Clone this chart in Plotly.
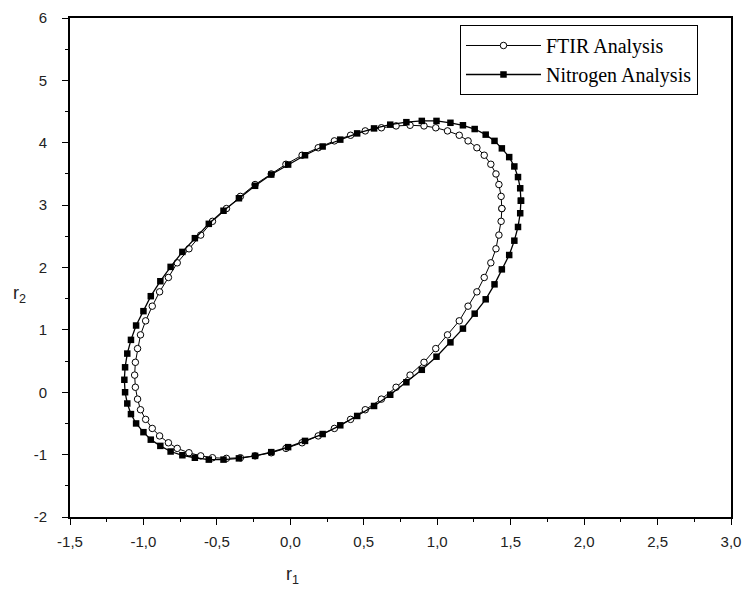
import plotly.graph_objects as go

# FTIR analysis confidence region (r1, r2)
ftir_r1 = [1.44, 1.435, 1.42, 1.40, 1.365, 1.32, 1.27, 1.21, 1.15, 1.07, 0.99, 0.91,
           0.815, 0.72, 0.62, 0.51, 0.41, 0.30, 0.19, 0.08, -0.03, -0.13, -0.24, -0.34,
           -0.435, -0.53, -0.61, -0.69, -0.77, -0.83, -0.89, -0.94, -0.985, -1.02, -1.04, -1.055,
           -1.06, -1.055, -1.04, -1.02, -0.985, -0.94, -0.89, -0.83, -0.77, -0.69, -0.61, -0.53,
           -0.435, -0.34, -0.24, -0.13, -0.03, 0.08, 0.19, 0.30, 0.41, 0.51, 0.62, 0.72,
           0.815, 0.91, 0.99, 1.07, 1.15, 1.21, 1.27, 1.32, 1.365, 1.40, 1.42, 1.435, 1.44]
ftir_r2 = [2.945, 3.14, 3.33, 3.50, 3.655, 3.80, 3.92, 4.03, 4.12, 4.19, 4.24, 4.27,
           4.28, 4.27, 4.24, 4.19, 4.12, 4.03, 3.92, 3.80, 3.655, 3.50, 3.33, 3.14,
           2.945, 2.74, 2.52, 2.30, 2.075, 1.84, 1.61, 1.38, 1.145, 0.92, 0.70, 0.48,
           0.275, 0.08, -0.11, -0.28, -0.435, -0.58, -0.70, -0.81, -0.90, -0.97, -1.02, -1.05,
           -1.06, -1.05, -1.02, -0.97, -0.90, -0.81, -0.70, -0.58, -0.435, -0.28, -0.11, 0.08,
           0.275, 0.48, 0.70, 0.92, 1.145, 1.38, 1.61, 1.84, 2.075, 2.30, 2.52, 2.74, 2.945]

# Nitrogen analysis confidence region (r1, r2)
nitro_r1 = [1.57, 1.565, 1.55, 1.525, 1.49, 1.44, 1.39, 1.33, 1.255, 1.175, 1.09, 0.995,
            0.895, 0.79, 0.68, 0.57, 0.455, 0.34, 0.22, 0.10, -0.015, -0.13, -0.24, -0.35,
            -0.455, -0.555, -0.65, -0.735, -0.815, -0.885, -0.95, -1.00, -1.05, -1.085, -1.11, -1.125,
            -1.13, -1.125, -1.11, -1.085, -1.05, -1.00, -0.95, -0.885, -0.815, -0.735, -0.65, -0.555,
            -0.455, -0.35, -0.24, -0.13, -0.015, 0.10, 0.22, 0.34, 0.455, 0.57, 0.68, 0.79,
            0.895, 0.995, 1.09, 1.175, 1.255, 1.33, 1.39, 1.44, 1.49, 1.525, 1.55, 1.565, 1.57]
nitro_r2 = [3.07, 3.27, 3.45, 3.62, 3.77, 3.91, 4.03, 4.13, 4.22, 4.28, 4.32, 4.35,
            4.35, 4.33, 4.29, 4.23, 4.15, 4.05, 3.94, 3.80, 3.65, 3.49, 3.31, 3.11,
            2.91, 2.70, 2.47, 2.25, 2.01, 1.78, 1.54, 1.30, 1.07, 0.84, 0.62, 0.40,
            0.20, 0.00, -0.18, -0.35, -0.50, -0.64, -0.76, -0.86, -0.95, -1.01, -1.05, -1.08,
            -1.08, -1.06, -1.02, -0.96, -0.88, -0.78, -0.67, -0.53, -0.38, -0.22, -0.04, 0.16,
            0.36, 0.57, 0.80, 1.02, 1.26, 1.49, 1.73, 1.97, 2.20, 2.43, 2.65, 2.87, 3.07]

x_tick_vals = [-1.5, -1.0, -0.5, 0.0, 0.5, 1.0, 1.5, 2.0, 2.5, 3.0]
x_tick_text = ["-1,5", "-1,0", "-0,5", "0,0", "0,5", "1,0", "1,5", "2,0", "2,5", "3,0"]
y_tick_vals = [-2, -1, 0, 1, 2, 3, 4, 5, 6]
y_tick_text = ["-2", "-1", "0", "1", "2", "3", "4", "5", "6"]

fig = go.Figure()
fig.add_trace(go.Scatter(
    x=ftir_r1, y=ftir_r2, mode="lines+markers", name="FTIR Analysis",
    line=dict(color="black", width=1),
    marker=dict(symbol="circle", size=6.5, color="white", line=dict(color="black", width=1)),
))
fig.add_trace(go.Scatter(
    x=nitro_r1, y=nitro_r2, mode="lines+markers", name="Nitrogen Analysis",
    line=dict(color="black", width=1.3),
    marker=dict(symbol="square", size=6.5, color="black"),
))

tick_font = dict(family="Liberation Sans, Arial", size=15, color="#222")
axis_common = dict(
    showgrid=False, zeroline=False, showline=True, mirror=True, automargin=False,
    linecolor="black", linewidth=1.6, ticks="outside", ticklen=6, tickwidth=1.2,
    tickcolor="black", tickfont=tick_font, ticklabeloverflow="allow",
)
fig.update_xaxes(
    range=[-1.5, 3.0], tickvals=x_tick_vals, ticktext=x_tick_text, ticklabelstandoff=4,
    minor=dict(ticks="outside", ticklen=3, dtick=0.25, tick0=-1.5, tickcolor="black"),
    **axis_common,
)
fig.update_yaxes(
    range=[-2, 6], tickvals=y_tick_vals, ticktext=y_tick_text, ticklabelstandoff=12,
    minor=dict(ticks="outside", ticklen=3, dtick=0.5, tick0=-2, tickcolor="black"),
    **axis_common,
)

fig.add_annotation(text="r<sub>1</sub>", xref="paper", yref="paper", x=0.337, y=-0.145,
                   showarrow=False, font=dict(family="Liberation Sans, Arial", size=18, color="#222"))
fig.add_annotation(text="r<sub>2</sub>", xref="paper", yref="paper", x=-0.09, y=0.445,
                   showarrow=False, font=dict(family="Liberation Sans, Arial", size=18, color="#222"))

fig.update_layout(
    width=742, height=591,
    margin=dict(l=70, r=11, t=18, b=74),
    paper_bgcolor="white", plot_bgcolor="white",
    showlegend=True,
    legend=dict(
        x=0.59, y=0.986, xanchor="left", yanchor="top",
        bgcolor="white", bordercolor="black", borderwidth=1,
        font=dict(family="Liberation Serif, Times New Roman", size=20, color="black"),
        tracegroupgap=0, itemsizing="trace", itemwidth=75,
    ),
)

fig.write_html("out.html")
